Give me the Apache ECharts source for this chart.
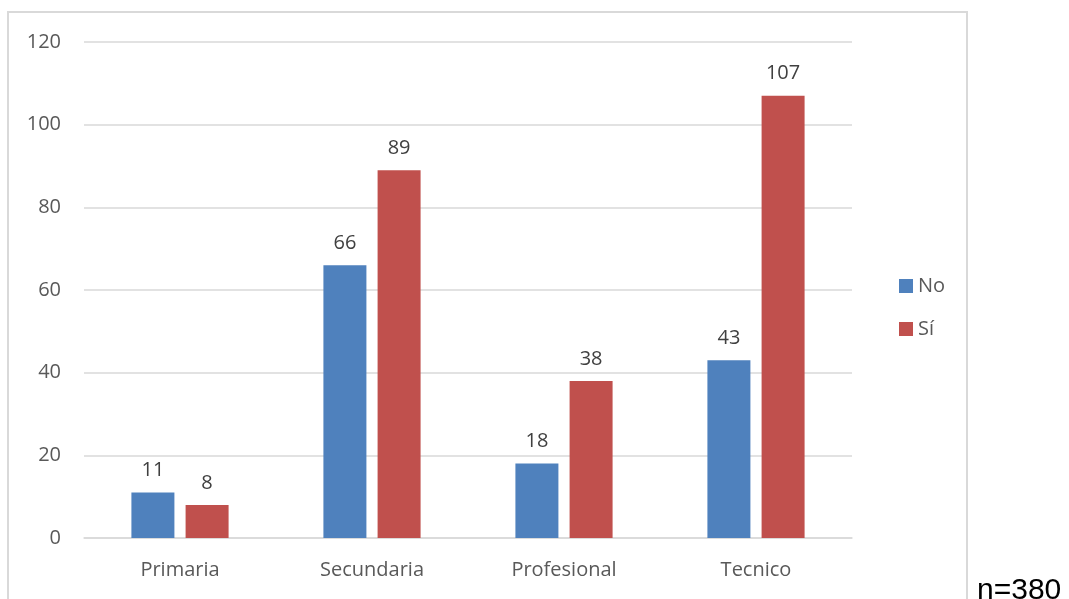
<!DOCTYPE html>
<html><head><meta charset="utf-8">
<script src="https://cdn.jsdelivr.net/npm/echarts@6/dist/echarts.min.js"></script>
<style>html,body{margin:0;padding:0;background:#fff}#c{width:1069px;height:599px}</style>
</head><body><div id="c"></div>
<script>
const categories = ["Primaria", "Secundaria", "Profesional", "Tecnico"];
const seriesNo = [11, 66, 18, 43];
const seriesSi = [8, 89, 38, 107];
const yTicks = [0, 20, 40, 60, 80, 100, 120];

const chart = echarts.init(document.getElementById('c'));
const font = "'Open Sans', 'Noto Sans', sans-serif";
const lbl = {show: true, position: 'top', color: '#404040', fontSize: 20, fontFamily: font, distance: 12};
chart.setOption({
  animation: false,
  graphic: [
    {type: 'rect', shape: {x: 8, y: 12, width: 959, height: 592}, style: {fill: 'none', stroke: '#d9d9d9', lineWidth: 2}, z: -1},
    {type: 'text', style: {x: 977, y: 591, text: 'n=380', fill: '#000', verticalAlign: 'middle', font: "30px 'Liberation Sans', Arial, sans-serif"}}
  ],
  grid: {left: 84, right: 217, top: 42, bottom: 61},
  legend: {
    orient: 'vertical', left: 894, top: 271, itemWidth: 14, itemHeight: 14, itemGap: 23,
    icon: 'rect',
    textStyle: {color: '#595959', fontSize: 20, fontFamily: font},
    data: ['No', 'Sí']
  },
  xAxis: {
    type: 'category', data: categories,
    axisLine: {lineStyle: {color: '#d9d9d9', width: 1.5}},
    axisTick: {show: false},
    axisLabel: {color: '#595959', fontSize: 20, fontFamily: font, margin: 22}
  },
  yAxis: {
    type: 'value', min: yTicks[0], max: yTicks[yTicks.length - 1], interval: 20,
    axisLine: {show: false}, axisTick: {show: false},
    splitLine: {lineStyle: {color: '#d9d9d9', width: 1.5}},
    axisLabel: {color: '#595959', fontSize: 20, fontFamily: font, margin: 23}
  },
  series: [
    {name: 'No', type: 'bar', data: seriesNo, barWidth: 43, barGap: '26%', itemStyle: {color: '#4F81BD'}, label: lbl},
    {name: 'Sí', type: 'bar', data: seriesSi, barWidth: 43, itemStyle: {color: '#C0504D'}, label: lbl}
  ]
});
</script></body></html>
